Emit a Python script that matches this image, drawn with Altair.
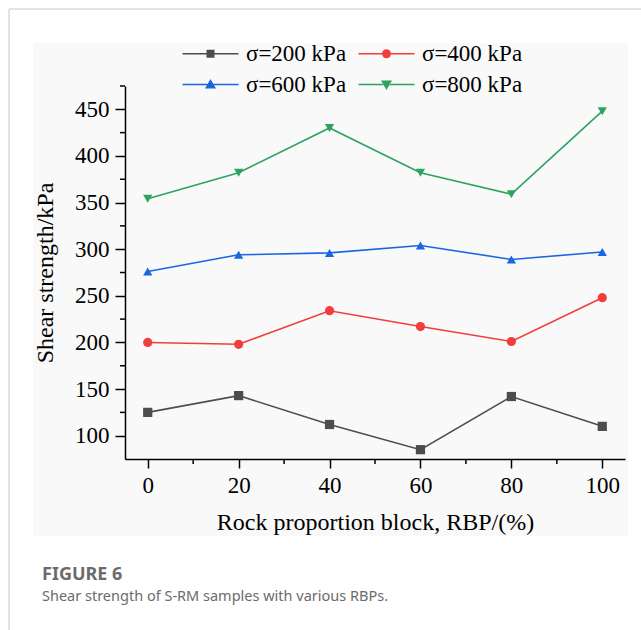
import altair as alt
import pandas as pd

# ---- data ----
RBP = [0, 20, 40, 60, 80, 100]
SERIES = ["σ=200 kPa", "σ=400 kPa", "σ=600 kPa", "σ=800 kPa"]
S200 = [125, 143, 112, 85, 142, 110]
S400 = [200, 198, 234, 217, 201, 248]
S600 = [276, 294, 296, 304, 289, 297]
S800 = [354, 382, 430, 382, 359, 448]
COLORS = ["#4d4d4d", "#f23d3d", "#1a66e0", "#2ea360"]
X_TICKS = [0, 20, 40, 60, 80, 100]
X_MINOR = [10, 30, 50, 70, 90]
Y_TICKS = [100, 150, 200, 250, 300, 350, 400, 450]
Y_MINOR = [125, 175, 225, 275, 325, 375, 425, 475]
X_TITLE = "Rock proportion block, RBP/(%)"
Y_TITLE = "Shear strength/kPa"
CAPTION_HEAD = "FIGURE 6"
CAPTION_TEXT = "Shear strength of S-RM samples with various RBPs."

rows = []
for name, vals in zip(SERIES, [S200, S400, S600, S800]):
    for x, v in zip(RBP, vals):
        rows.append({"RBP": x, "strength": v, "series": name})
df = pd.DataFrame(rows)

W, H = 500, 373
SERIF = "Liberation Serif"

xscale = alt.Scale(domain=[-5, 105], nice=False, zero=False)
yscale = alt.Scale(domain=[75, 475], nice=False, zero=False)

x_axis = alt.Axis(values=X_TICKS, format="d", grid=False, title=X_TITLE, zindex=2,
                  labelFont=SERIF, labelFontSize=23, labelColor="black",
                  tickSize=9, tickWidth=1.5, tickColor="black",
                  domainColor="black", domainWidth=1.5, labelPadding=6,
                  titleFont=SERIF, titleFontSize=24, titleFontWeight="normal",
                  titleColor="black", titlePadding=13, labelFlush=False)
y_axis = alt.Axis(values=Y_TICKS, format="d", grid=False, title=Y_TITLE, zindex=2,
                  labelFont=SERIF, labelFontSize=23, labelColor="black",
                  tickSize=10, tickWidth=1.5, tickColor="black",
                  domainColor="black", domainWidth=1.5, labelPadding=6,
                  titleFont=SERIF, titleFontSize=24, titleFontWeight="normal",
                  titleColor="black", titlePadding=17, labelFlush=False)

one = pd.DataFrame({"t": [CAPTION_HEAD]})
cap2 = pd.DataFrame({"t": [CAPTION_TEXT]})

bg = alt.Chart(one).mark_rect(color="#f9f9f9").encode(
    x=alt.value(-92), x2=alt.value(503), y=alt.value(-43), y2=alt.value(450))
border_v = alt.Chart(one).mark_rule(color="#d9d9d9", strokeWidth=1.5).encode(
    x=alt.value(-116), y=alt.value(-77), y2=alt.value(550))
border_h = alt.Chart(one).mark_rule(color="#d9d9d9", strokeWidth=1.5).encode(
    x=alt.value(-116), x2=alt.value(520), y=alt.value(-77))
head = alt.Chart(one).mark_text(align="left", baseline="alphabetic", font="Noto Sans",
                                fontSize=18, fontWeight="bold", color="#6b6b6b").encode(
    x=alt.value(-83), y=alt.value(494), text="t:N")
sub = alt.Chart(cap2).mark_text(align="left", baseline="alphabetic", font="Noto Sans",
                                fontSize=14.5, color="#6b6b6b").encode(
    x=alt.value(-83), y=alt.value(515), text="t:N")

color_plain = alt.Color("series:N", scale=alt.Scale(domain=SERIES, range=COLORS), legend=None)

lines = alt.Chart(df).mark_line(strokeWidth=1.6).encode(
    x=alt.X("RBP:Q", scale=xscale, axis=x_axis),
    y=alt.Y("strength:Q", scale=yscale, axis=y_axis),
    color=color_plain,
)
points = alt.Chart(df).mark_point(filled=True, size=85, opacity=1).encode(
    x=alt.X("RBP:Q", scale=xscale, axis=x_axis),
    y=alt.Y("strength:Q", scale=yscale, axis=y_axis),
    color=color_plain,
    shape=alt.Shape("series:N", scale=alt.Scale(
        domain=SERIES, range=["square", "circle", "triangle-up", "triangle-down"]), legend=None),
)

xminor = alt.Chart(pd.DataFrame({"RBP": X_MINOR})).mark_rule(color="black", strokeWidth=1.5).encode(
    x=alt.X("RBP:Q", scale=xscale, axis=x_axis), y=alt.value(H), y2=alt.value(H + 5))
yminor = alt.Chart(pd.DataFrame({"strength": Y_MINOR})).mark_rule(color="black", strokeWidth=1.5).encode(
    y=alt.Y("strength:Q", scale=yscale, axis=y_axis), x=alt.value(0), x2=alt.value(-5))

# legend symbols: a short line with the marker in the middle (unit = 5 px at size 100)
LINE_L = "M-5.6,-0.15H-0.6V0.15H-5.6Z"
LINE_R = "M0.6,-0.15H5.6V0.15H0.6Z"
LEG_SHAPES = [
    LINE_L + LINE_R + "M-0.8,-0.8H0.8V0.8H-0.8Z",
    LINE_L + LINE_R + "M0.9,0A0.9,0.9 0 1,1 -0.9,0A0.9,0.9 0 1,1 0.9,0Z",
    LINE_L + LINE_R + "M0,-1.1L1.1,0.8H-1.1Z",
    LINE_L + LINE_R + "M0,1.1L1.1,-0.8H-1.1Z",
]
leg = alt.Legend(orient="none", legendX=74, legendY=-44, columns=2, direction="horizontal",
                 title=None, labelFont=SERIF, labelFontSize=23, labelColor="black",
                 symbolSize=100, symbolStrokeWidth=0, labelOffset=24,
                 columnPadding=11, rowPadding=7, padding=0, labelLimit=0)
driver = alt.Chart(df).mark_point(filled=True, size=100, opacity=1).encode(
    x=alt.value(0), y=alt.value(-5000),
    color=alt.Color("series:N", scale=alt.Scale(domain=SERIES, range=COLORS), legend=leg),
    shape=alt.Shape("series:N", scale=alt.Scale(domain=SERIES, range=LEG_SHAPES), legend=leg),
)

chart = alt.layer(bg, border_v, border_h, head, sub, xminor, yminor, lines, points, driver).resolve_scale(
    color="independent", shape="independent"
).properties(
    width=W, height=H,
    padding={"left": 125, "top": 86, "right": 16, "bottom": 171},
    autosize=alt.AutoSizeParams(type="none"),
    background="white",
).configure_view(stroke=None)

chart.save("out.html", embed_options={"renderer": "svg", "actions": False})
